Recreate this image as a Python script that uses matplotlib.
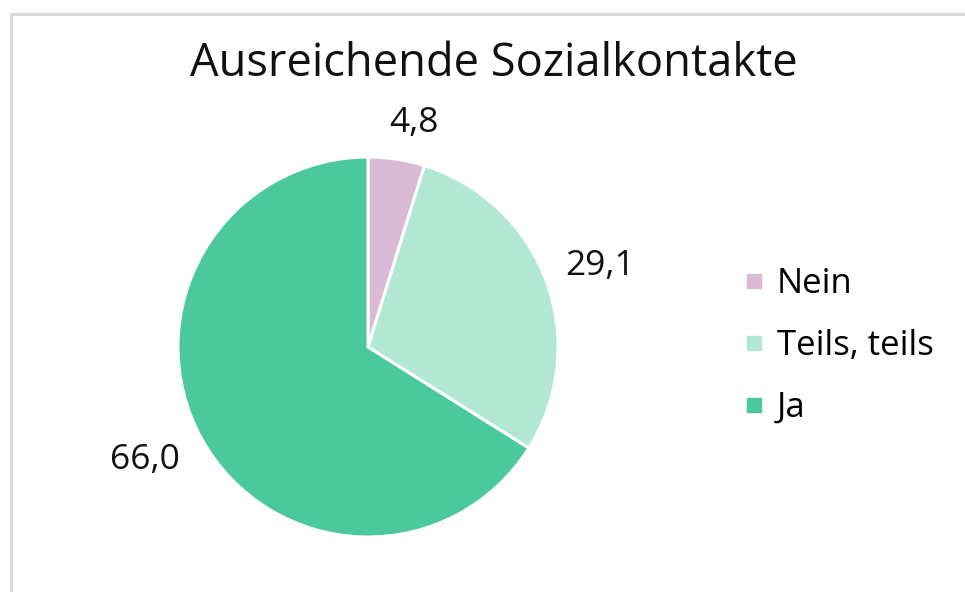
import matplotlib
matplotlib.use("Agg")
import matplotlib.pyplot as plt
import numpy as np
from matplotlib.lines import Line2D
from matplotlib.patches import Rectangle

categories = ["Nein", "Teils, teils", "Ja"]
values = [4.8, 29.1, 66.0]
value_labels = ["4,8", "29,1", "66,0"]
title = "Ausreichende Sozialkontakte"
colors = ["#dbbad6", "#b1e7d3", "#4bc99c"]

plt.rcParams['font.family'] = ['Open Sans', 'DejaVu Sans']

W, H, DPI = 965, 592, 100
fig = plt.figure(figsize=(W / DPI, H / DPI), dpi=DPI)
fig.patch.set_facecolor("white")

# border
fig.add_artist(Rectangle((11 / W, -0.2), 1.2, (H - 14) / H + 0.2, transform=fig.transFigure,
                         fill=False, edgecolor="#d9d9d9", linewidth=2.2))

cx, cy, r = 368, 347, 190
ax = fig.add_axes([(cx - r) / W, (H - cy - r) / H, 2 * r / W, 2 * r / H])
wedges, _ = ax.pie(values, colors=colors, startangle=90, counterclock=False,
                   wedgeprops=dict(edgecolor="white", linewidth=2.2))
ax.set_xlim(-1, 1)
ax.set_ylim(-1, 1)
ax.set_aspect("equal")
ax.axis("off")

dists = [1.19, 1.30, 1.32]
offsets_px = [(12, 0), (0, -5), (-4, 8)]
for w, lab, d, (ox, oy) in zip(wedges, value_labels, dists, offsets_px):
    th = np.deg2rad((w.theta1 + w.theta2) / 2)
    ax.annotate(lab, (d * np.cos(th), d * np.sin(th)), xytext=(ox * 0.72, oy * 0.72),
                textcoords="offset points", ha="center", va="center",
                fontsize=25.5, color="#111111", annotation_clip=False)

fig.text(494 / W, 1 - 64 / H, title, ha="center", va="center", fontsize=32.6, color="#111111")

handles = [Line2D([], [], marker="s", linestyle="none", markersize=10,
                  markerfacecolor=c, markeredgecolor=c) for c in colors]
fig.legend(handles, categories, loc="center left", bbox_to_anchor=(728 / W, 1 - 346 / H),
           frameon=False, fontsize=25, handlelength=0.5, handletextpad=0.4,
           labelspacing=0.8, borderpad=0)

fig.savefig("out.png", dpi=DPI, facecolor="white")
